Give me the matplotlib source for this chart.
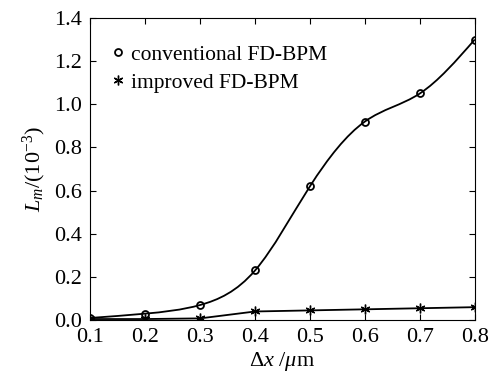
import numpy as np
import matplotlib
matplotlib.use("Agg")
import matplotlib.pyplot as plt
from matplotlib.path import Path
from matplotlib.patches import PathPatch

plt.rcParams["font.family"] = "Liberation Serif"
plt.rcParams["mathtext.fontset"] = "custom"
plt.rcParams["mathtext.rm"] = "Liberation Serif"
plt.rcParams["mathtext.it"] = "Liberation Serif:italic"

dx = [0.1, 0.2, 0.3, 0.4, 0.5, 0.6, 0.7, 0.8]
conventional = [0.01, 0.03, 0.07, 0.23, 0.62, 0.92, 1.05, 1.30]
improved = [0.005, 0.005, 0.008, 0.04, 0.045, 0.05, 0.055, 0.06]
xticks = [0.1, 0.2, 0.3, 0.4, 0.5, 0.6, 0.7, 0.8]
yticks = [0.0, 0.2, 0.4, 0.6, 0.8, 1.0, 1.2, 1.4]


def spline_path(x, y):
    # natural cubic spline through the points, written as Bezier segments
    x = np.asarray(x, float)
    y = np.asarray(y, float)
    n = len(x)
    h = np.diff(x)
    A = np.zeros((n, n))
    b = np.zeros(n)
    A[0, 0] = A[-1, -1] = 1
    for i in range(1, n - 1):
        A[i, i - 1] = h[i - 1]
        A[i, i] = 2 * (h[i - 1] + h[i])
        A[i, i + 1] = h[i]
        b[i] = 3 * ((y[i + 1] - y[i]) / h[i] - (y[i] - y[i - 1]) / h[i - 1])
    c = np.linalg.solve(A, b)
    slope = np.zeros(n)
    for i in range(n - 1):
        slope[i] = (y[i + 1] - y[i]) / h[i] - h[i] * (2 * c[i] + c[i + 1]) / 3
    slope[-1] = slope[-2] + h[-1] * (c[-2] + c[-1])
    verts = [(x[0], y[0])]
    codes = [Path.MOVETO]
    for i in range(n - 1):
        verts += [(x[i] + h[i] / 3, y[i] + h[i] / 3 * slope[i]),
                  (x[i + 1] - h[i] / 3, y[i + 1] - h[i] / 3 * slope[i + 1]),
                  (x[i + 1], y[i + 1])]
        codes += [Path.CURVE4] * 3
    return Path(verts, codes)


fig, ax = plt.subplots(figsize=(4.93, 3.82), dpi=100)
fig.subplots_adjust(left=0.183, right=0.963, top=0.953, bottom=0.162)

ax.add_patch(PathPatch(spline_path(dx, conventional), fill=False, color="black", lw=1.3))
ax.plot(dx, improved, color="black", lw=1.3)
ax.plot(dx, conventional, "o", mfc="none", mec="black", ms=5, mew=1.3,
        label="conventional FD-BPM")
ax.plot(dx, improved, marker=(6, 2, 0), ls="none", color="black", ms=7, mew=1.0,
        label="improved FD-BPM")

ax.set_xlim(0.1, 0.8)
ax.set_ylim(0.0, 1.4)
ax.set_xticks(xticks)
ax.set_yticks(yticks)
ax.set_xticklabels([f"{v:.1f}" for v in xticks])
ax.set_yticklabels([f"{v:.1f}" for v in yticks])
ax.tick_params(direction="in", top=True, right=True, labelsize=16, length=4, pad=6)

ax.set_xlabel(r"$\Delta$$\mathit{x}$ /$\mathit{\mu}$m", fontsize=16, labelpad=2)
ax.set_ylabel(r"$\mathit{L_m}$/(10$^{-3}$)", fontsize=16, labelpad=4)

ax.legend(loc="upper left", bbox_to_anchor=(0.034, 0.94), frameon=False,
          fontsize=15.5, handlelength=0.6, handletextpad=0.3,
          borderaxespad=0, labelspacing=0.36)

fig.savefig("out.png", dpi=100)
